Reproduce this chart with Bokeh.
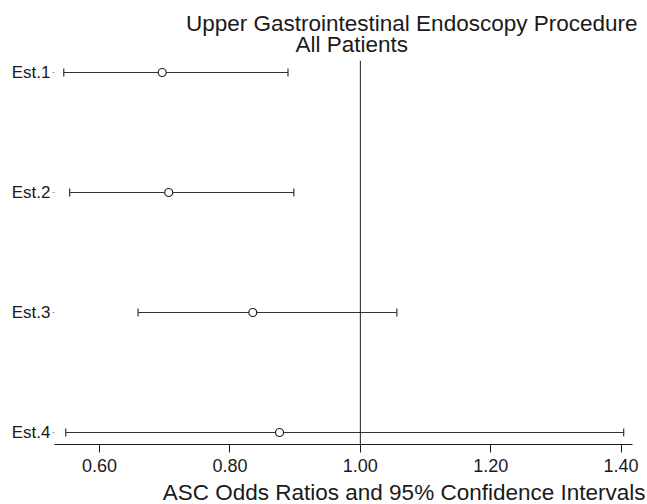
from bokeh.plotting import figure
from bokeh.models import (Range1d, FixedTicker, NumeralTickFormatter, Span,
                          Title, Whisker, TeeHead, ColumnDataSource)
from bokeh.embed import file_html
from bokeh.resources import INLINE

# ---- data ----
labels = ["Est.1", "Est.2", "Est.3", "Est.4"]
estimates = [0.696, 0.706, 0.835, 0.876]
lower = [0.545, 0.554, 0.659, 0.548]
upper = [0.889, 0.898, 1.056, 1.404]
x_ticks = [0.60, 0.80, 1.00, 1.20, 1.40]
ref_value = 1.00
title_line1 = "Upper Gastrointestinal Endoscopy Procedure"
title_line2 = "All Patients"
x_title = "ASC Odds Ratios and 95% Confidence Intervals"

n = len(labels)
ypos = [n - i for i in range(n)]
src = ColumnDataSource(dict(y=ypos, est=estimates, lo=lower, hi=upper, lab=labels))

FONT = "Liberation Sans"
INK = "#1a1a1a"

p = figure(width=647, height=504,
           x_range=Range1d(0.5308, 1.4175), y_range=Range1d(0.9, 4.1),
           output_backend="svg", toolbar_location=None,
           min_border_left=54, min_border_right=15,
           min_border_top=60, min_border_bottom=60)
p.outline_line_color = None
p.xgrid.visible = False
p.ygrid.visible = False
p.background_fill_color = "white"
p.border_fill_color = "white"

# x axis
xa = p.xaxis[0]
xa.ticker = FixedTicker(ticks=x_ticks)
xa.formatter = NumeralTickFormatter(format="0.00")
xa.major_tick_out = 8
xa.major_tick_in = 0
xa.minor_tick_out = 0
xa.minor_tick_in = 0
xa.axis_line_color = INK
xa.major_tick_line_color = INK
xa.major_label_text_font = FONT
xa.major_label_text_font_size = "18px"
xa.major_label_text_color = INK
xa.major_label_standoff = 6

# y axis
ya = p.yaxis[0]
ya.ticker = FixedTicker(ticks=ypos)
ya.major_label_overrides = {y: l for y, l in zip(ypos, labels)}
ya.axis_line_color = None
ya.major_tick_out = 2
ya.major_tick_in = 0
ya.minor_tick_out = 0
ya.minor_tick_in = 0
ya.major_tick_line_color = "#999999"
ya.major_label_text_font = FONT
ya.major_label_text_font_size = "17px"
ya.major_label_text_color = INK
ya.major_label_standoff = 2

# reference line
p.add_layout(Span(location=ref_value, dimension="height",
                  line_color=INK, line_width=1))

# confidence intervals
w = Whisker(source=src, base="y", lower="lo", upper="hi", dimension="width",
            line_color="#333333", line_width=1.2,
            lower_head=TeeHead(size=8, line_color="#333333", line_width=1.2),
            upper_head=TeeHead(size=8, line_color="#333333", line_width=1.2))
p.add_layout(w)

# point estimates
p.scatter("est", "y", source=src, marker="circle", size=8,
          fill_color="white", line_color="#222222", line_width=1.2)

# titles
def mk_title(text, align, offset, standoff):
    return Title(text=text, align=align, offset=offset, standoff=standoff,
                 text_font=FONT, text_font_size="22.5px", text_line_height=1.0,
                 text_font_style="normal", text_color=INK)

p.add_layout(mk_title(title_line2, "left", 241, 7), "above")
p.add_layout(mk_title(title_line1, "right", -5, -19), "above")
p.add_layout(mk_title("\n" + x_title, "right", -13, -44), "below")

open("out.html", "w").write(file_html(p, INLINE))
